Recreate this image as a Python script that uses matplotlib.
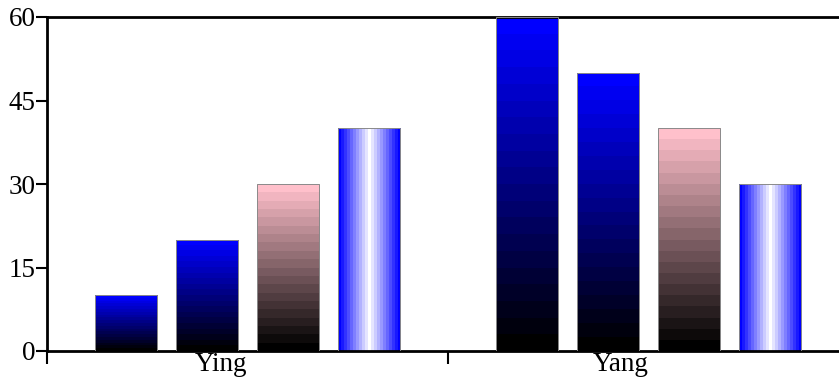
import numpy as np
import matplotlib
matplotlib.use("Agg")
import matplotlib.pyplot as plt
from matplotlib.colors import to_rgb

categories = ["Ying", "Yang"]
series1 = [10, 60]
series2 = [20, 50]
series3 = [30, 40]
series4 = [40, 30]
yticks = [0, 15, 30, 45, 60]

plt.rcParams['font.family'] = ['Liberation Serif', 'DejaVu Serif']

fig = plt.figure(figsize=(8.39, 3.79), dpi=100)
ax = fig.add_axes([47/839, 28/379, 802/839, 334/379])

x = np.arange(len(categories))
offsets = [-0.303, -0.101, 0.101, 0.303]
width = 0.157

def vgrad(top_rgb, n=20):
    t = np.linspace(0, 1, n)[:, None]
    c = np.array(top_rgb)[None, :]
    return (t[..., None] * c[None, ...])[:, 0, :][:, None, :]

def hgrad(n=21):
    i = np.arange(n)
    t = np.abs(i - (n - 1) / 2) / ((n - 1) / 2)
    blue = np.array([0, 0, 1.0])
    white = np.array([1.0, 1, 1])
    cols = t[:, None] * blue + (1 - t[:, None]) * white
    return cols[None, :, :]

grads = [vgrad((0, 0, 1)), vgrad((0, 0, 1)), vgrad(to_rgb('pink')), hgrad()]
all_series = [series1, series2, series3, series4]

for s, off, g in zip(all_series, offsets, grads):
    bars = ax.bar(x + off, s, width, facecolor='none', edgecolor='#8a8a8a',
                  linewidth=0.7, zorder=3)
    for rect in bars:
        x0 = rect.get_x(); w = rect.get_width(); h = rect.get_height()
        im = ax.imshow(g, extent=(x0, x0 + w, 0, h), origin='lower',
                       aspect='auto', interpolation='nearest', zorder=2)
        im.set_clip_path(rect)

ax.set_xlim(-0.5, 1.5)
ax.set_ylim(0, 60)
ax.set_yticks(yticks)
ax.set_yticklabels([str(v) for v in yticks])
ax.set_xticks([-0.5, 0.5, 1.5])
ax.set_xticklabels([])
ax.set_xticks(x, minor=True)
ax.set_xticklabels(categories, minor=True, ha='right')
ax.tick_params(axis='x', which='minor', length=0, pad=1, labelsize=19.5)
ax.tick_params(axis='x', which='major', length=9, width=1.5, direction='out')
ax.tick_params(axis='y', length=8, width=1.5, direction='out', pad=0, labelsize=19.5)
for sp in ['left', 'top', 'bottom']:
    ax.spines[sp].set_linewidth(2)
ax.spines['right'].set_visible(False)
ax.set_facecolor('white')

fig.savefig("out.png", dpi=100)
